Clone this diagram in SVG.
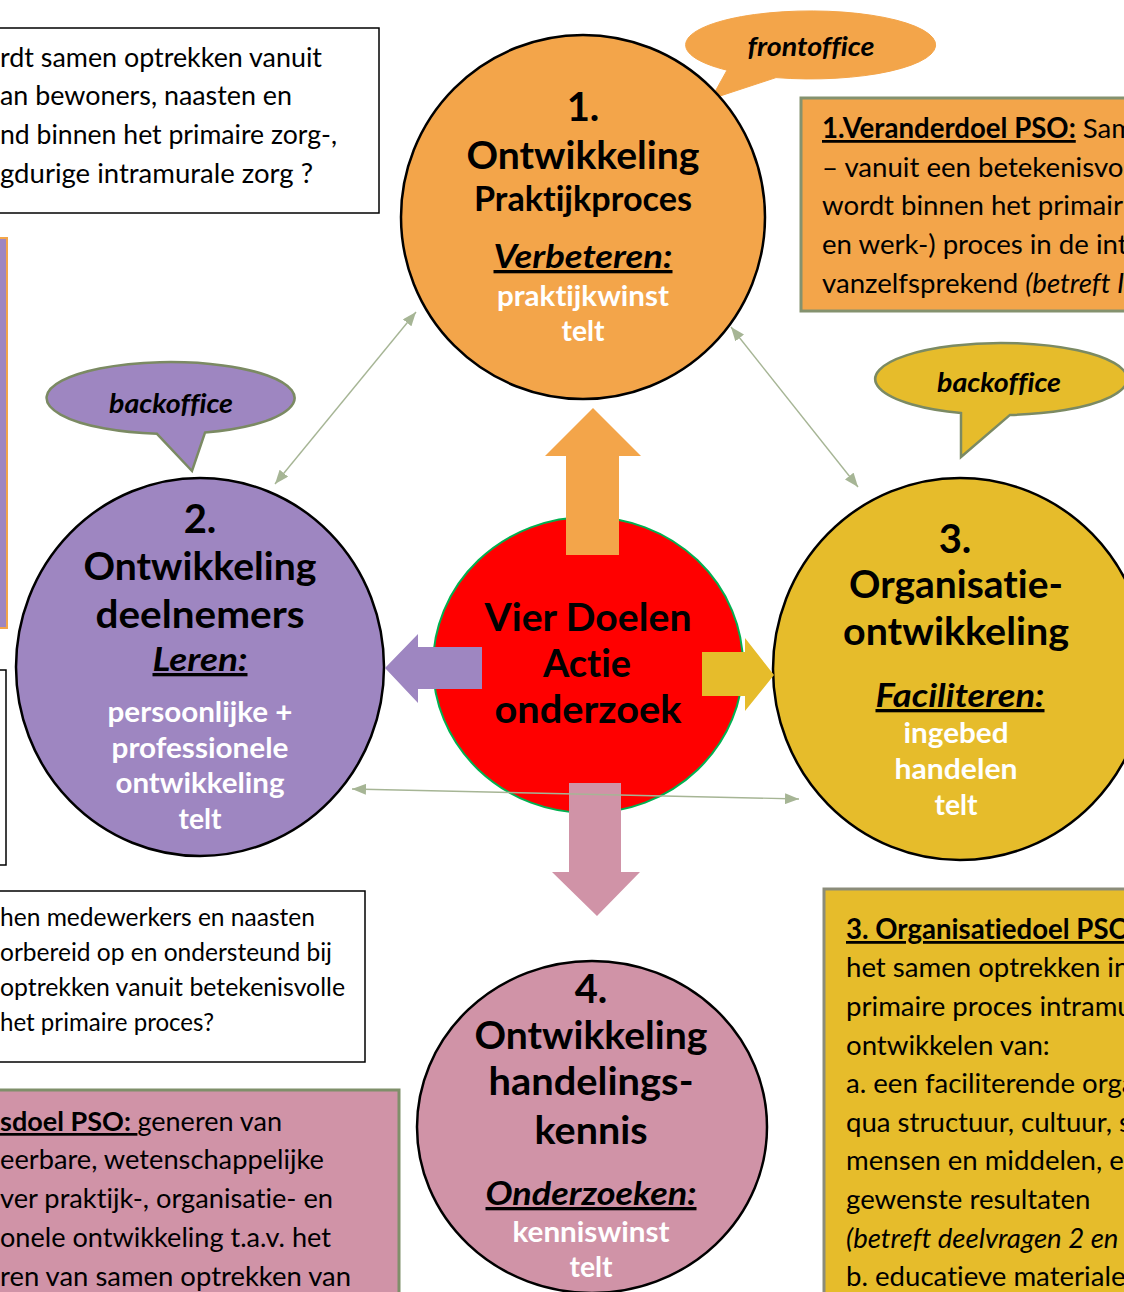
<svg xmlns="http://www.w3.org/2000/svg" width="1124" height="1292" viewBox="0 0 1124 1292">
<defs>
<style>
text{font-family:Lato,"Liberation Sans",sans-serif;font-variant-ligatures:none;font-feature-settings:"liga" 0,"clig" 0;}
.box{font-size:27px;fill:#000;}
.boxr{font-size:27.6px;fill:#000;}
.box4{font-size:24.5px;fill:#000;}
.num{font-size:40px;font-weight:700;text-anchor:middle;fill:#000;}
.hd{font-size:39px;font-weight:700;text-anchor:middle;fill:#000;}
.sub{font-size:34px;font-weight:700;text-anchor:middle;fill:#000;}
.vb{font-size:33px;font-weight:700;font-style:italic;text-decoration:underline;text-anchor:middle;fill:#000;}
.wt{font-size:29px;font-weight:700;text-anchor:middle;fill:#fff;}
.bub{font-size:27px;font-weight:700;font-style:italic;text-anchor:middle;fill:#000;}
.b{font-weight:700;text-decoration:underline;}
.i{font-style:italic;}
.circ{stroke:#000;stroke-width:2.5;}
.conn{stroke:#A6B595;stroke-width:1.4;fill:none;}
</style>
<marker id="ah" viewBox="0 0 14 11" refX="14" refY="5.5" markerWidth="14" markerHeight="11" markerUnits="userSpaceOnUse" orient="auto-start-reverse">
<path d="M0,0 L14,5.5 L0,11 Z" fill="#A6B595"/>
</marker>
</defs>
<rect width="1124" height="1292" fill="#fff"/>

<g id="box-vraag-top">
<rect x="-5" y="28" width="384" height="185" fill="#fff" stroke="#000" stroke-width="1.5"/>
<text class="box" x="0" y="67" textLength="322" lengthAdjust="spacingAndGlyphs">rdt samen optrekken vanuit</text>
<text class="box" x="0" y="105" textLength="292" lengthAdjust="spacingAndGlyphs">an bewoners, naasten en</text>
<text class="box" x="0" y="144" textLength="337" lengthAdjust="spacingAndGlyphs">nd binnen het primaire zorg-,</text>
<text class="box" x="0" y="183" textLength="313" lengthAdjust="spacingAndGlyphs">gdurige intramurale zorg ?</text>
</g>

<g id="box-purple-left">
<rect x="-5" y="238" width="12" height="390" fill="#9E86C1" stroke="#F3A54A" stroke-width="2"/>
</g>

<g id="box-white-left">
<rect x="-5" y="670" width="11" height="195" fill="#fff" stroke="#000" stroke-width="1.5"/>
</g>

<g id="box-vraag-mid">
<rect x="-5" y="891" width="370" height="171" fill="#fff" stroke="#000" stroke-width="1.5"/>
<text class="box4" x="0" y="926" textLength="315" lengthAdjust="spacingAndGlyphs">hen medewerkers en naasten</text>
<text class="box4" x="0" y="961" textLength="332" lengthAdjust="spacingAndGlyphs">orbereid op en ondersteund bij</text>
<text class="box4" x="0" y="996" textLength="345" lengthAdjust="spacingAndGlyphs">optrekken vanuit betekenisvolle</text>
<text class="box4" x="0" y="1031" textLength="214" lengthAdjust="spacingAndGlyphs">het primaire proces?</text>
</g>

<g id="box-kennisdoel">
<rect x="-5" y="1090" width="404" height="220" fill="#D093A7" stroke="#7F8F6A" stroke-width="3"/>
<text class="box" x="0" y="1131" textLength="282" lengthAdjust="spacingAndGlyphs"><tspan class="b">sdoel PSO: </tspan>generen van</text>
<text class="box" x="0" y="1169" textLength="324" lengthAdjust="spacingAndGlyphs">eerbare, wetenschappelijke</text>
<text class="box" x="0" y="1208" textLength="333" lengthAdjust="spacingAndGlyphs">ver praktijk-, organisatie- en</text>
<text class="box" x="0" y="1247" textLength="331" lengthAdjust="spacingAndGlyphs">onele ontwikkeling t.a.v. het</text>
<text class="box" x="0" y="1286" textLength="351" lengthAdjust="spacingAndGlyphs">ren van samen optrekken van</text>
</g>

<g id="box-veranderdoel">
<rect x="801" y="98" width="340" height="213" fill="#F3A54A" stroke="#84926F" stroke-width="3"/>
<text class="boxr" x="822" y="138"><tspan class="b">1.Veranderdoel PSO:</tspan> Sam</text>
<text class="boxr" x="822" y="177">– vanuit een betekenisvol</text>
<text class="boxr" x="822" y="215">wordt binnen het primair</text>
<text class="boxr" x="822" y="254">en werk-) proces in de int</text>
<text class="boxr" x="822" y="293">vanzelfsprekend <tspan class="i">(betreft I</tspan></text>
</g>

<g id="box-organisatiedoel">
<rect x="824" y="889" width="320" height="420" fill="#E6BC2B" stroke="#8B8C7A" stroke-width="3"/>
<text class="boxr" x="846" y="939"><tspan class="b">3. Organisatiedoel PSO</tspan></text>
<text class="boxr" x="846" y="977">het samen optrekken in</text>
<text class="boxr" x="846" y="1016">primaire proces intramu</text>
<text class="boxr" x="846" y="1055">ontwikkelen van:</text>
<text class="boxr" x="846" y="1093">a. een faciliterende orga</text>
<text class="boxr" x="846" y="1132">qua structuur, cultuur, s</text>
<text class="boxr" x="846" y="1170">mensen en middelen, e</text>
<text class="boxr" x="846" y="1209">gewenste resultaten</text>
<text class="boxr i" x="846" y="1248">(betreft deelvragen 2 en</text>
<text class="boxr" x="846" y="1286">b. educatieve materiale</text>
</g>

<g id="bubble-frontoffice">
<path d="M727,70.2 L711,99 L776,77.6 A125,34 0 1 0 727,70.2 Z" fill="#F3A54A" stroke="#F3A54A" stroke-width="1"/>
<text class="bub" x="811" y="56" textLength="127" lengthAdjust="spacingAndGlyphs">frontoffice</text>
</g>

<g id="bubble-backoffice-2">
<path d="M157,433.8 L192,471 L205,432.6 A124,36 0 1 0 157,433.8 Z" fill="#9E86C1" stroke="#7B8A63" stroke-width="2.5"/>
<text class="bub" x="171" y="413" textLength="124" lengthAdjust="spacingAndGlyphs">backoffice</text>
</g>

<g id="bubble-backoffice-3">
<path d="M961,413.1 L961,457 L1010,414.9 A126,36 0 1 0 961,413.1 Z" fill="#E6BC2B" stroke="#7B8A63" stroke-width="2.5"/>
<text class="bub" x="999" y="392" textLength="124" lengthAdjust="spacingAndGlyphs">backoffice</text>
</g>

<g id="node-1">
<circle class="circ" cx="583" cy="217" r="182" fill="#F3A54A"/>
<text class="num" x="583" y="121">1.</text>
<text class="hd" x="583" y="169" textLength="233" lengthAdjust="spacingAndGlyphs">Ontwikkeling</text>
<text class="sub" x="583" y="211" textLength="218" lengthAdjust="spacingAndGlyphs">Praktijkproces</text>
<text class="vb" x="583" y="268" textLength="179" lengthAdjust="spacingAndGlyphs">Verbeteren:</text>
<text class="wt" x="583" y="306" textLength="172" lengthAdjust="spacingAndGlyphs">praktijkwinst</text>
<text class="wt" x="583" y="341" textLength="43" lengthAdjust="spacingAndGlyphs">telt</text>
</g>

<g id="node-2">
<ellipse class="circ" cx="200" cy="667" rx="184" ry="189" fill="#9E86C1"/>
<text class="num" x="200" y="533">2.</text>
<text class="hd" x="200" y="580" textLength="233" lengthAdjust="spacingAndGlyphs">Ontwikkeling</text>
<text class="hd" x="200" y="628" textLength="209" lengthAdjust="spacingAndGlyphs">deelnemers</text>
<text class="vb" x="200" y="671" textLength="95" lengthAdjust="spacingAndGlyphs">Leren:</text>
<text class="wt" x="200" y="722" textLength="185" lengthAdjust="spacingAndGlyphs">persoonlijke +</text>
<text class="wt" x="200" y="758" textLength="177" lengthAdjust="spacingAndGlyphs">professionele</text>
<text class="wt" x="200" y="793" textLength="169" lengthAdjust="spacingAndGlyphs">ontwikkeling</text>
<text class="wt" x="200" y="829" textLength="43" lengthAdjust="spacingAndGlyphs">telt</text>
</g>

<g id="node-3">
<ellipse class="circ" cx="960" cy="669" rx="187" ry="191" fill="#E6BC2B"/>
<text class="num" x="955" y="553">3.</text>
<text class="hd" x="956" y="598" textLength="214" lengthAdjust="spacingAndGlyphs">Organisatie-</text>
<text class="hd" x="956" y="645" textLength="226" lengthAdjust="spacingAndGlyphs">ontwikkeling</text>
<text class="vb" x="960" y="707" textLength="169" lengthAdjust="spacingAndGlyphs">Faciliteren:</text>
<text class="wt" x="956" y="743" textLength="105" lengthAdjust="spacingAndGlyphs">ingebed</text>
<text class="wt" x="956" y="779" textLength="123" lengthAdjust="spacingAndGlyphs">handelen</text>
<text class="wt" x="956" y="815" textLength="43" lengthAdjust="spacingAndGlyphs">telt</text>
</g>

<g id="node-4">
<ellipse class="circ" cx="592" cy="1127" rx="175" ry="166" fill="#D093A7"/>
<text class="num" x="591" y="1003">4.</text>
<text class="hd" x="591" y="1049" textLength="233" lengthAdjust="spacingAndGlyphs">Ontwikkeling</text>
<text class="hd" x="591" y="1095" textLength="205" lengthAdjust="spacingAndGlyphs">handelings-</text>
<text class="hd" x="591" y="1144" textLength="113" lengthAdjust="spacingAndGlyphs">kennis</text>
<text class="vb" x="591" y="1205" textLength="211" lengthAdjust="spacingAndGlyphs">Onderzoeken:</text>
<text class="wt" x="591" y="1242" textLength="157" lengthAdjust="spacingAndGlyphs">kenniswinst</text>
<text class="wt" x="591" y="1277" textLength="43" lengthAdjust="spacingAndGlyphs">telt</text>
</g>

<g id="node-center">
<ellipse cx="588" cy="665" rx="155" ry="148" fill="#FF0000" stroke="#00B050" stroke-width="2"/>
<text class="hd" x="588" y="631" textLength="207" lengthAdjust="spacingAndGlyphs">Vier Doelen</text>
<text class="hd" x="587" y="677" textLength="88" lengthAdjust="spacingAndGlyphs">Actie</text>
<text class="hd" x="588" y="723" textLength="187" lengthAdjust="spacingAndGlyphs">onderzoek</text>
</g>

<g id="connectors">
<polygon points="593,408 641,456 619,456 619,555 566,555 566,456 545,456" fill="#F3A54A"/>
<polygon points="385,668 418,634 418,647 482,647 482,689 418,689 418,703" fill="#9E86C1"/>
<polygon points="702,652 745,652 745,638 774,675 745,711 745,696 702,696" fill="#E6BC2B"/>
<polygon points="569,783 621,783 621,872 640,872 597,916 552,872 569,872" fill="#D093A7"/>
<line class="conn" x1="416" y1="312" x2="275" y2="484" marker-start="url(#ah)" marker-end="url(#ah)"/>
<line class="conn" x1="731" y1="327" x2="858" y2="487" marker-start="url(#ah)" marker-end="url(#ah)"/>
<line class="conn" x1="352" y1="789" x2="799" y2="799" marker-start="url(#ah)" marker-end="url(#ah)"/>
</g>
</svg>
